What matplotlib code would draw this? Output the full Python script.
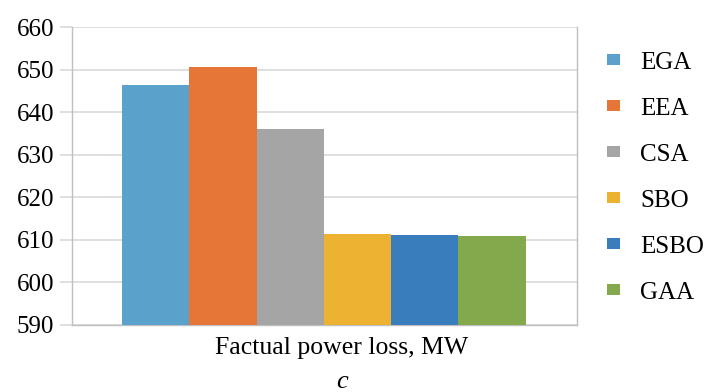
import matplotlib.pyplot as plt
from matplotlib.patches import Patch

# Data
methods = ['EGA', 'EEA', 'CSA', 'SBO', 'ESBO', 'GAA']
power_loss = [646.4, 650.7, 636.0, 611.3, 611.1, 610.9]
colors = ['#5AA2CC', '#E57637', '#A5A5A5', '#EDB232', '#3A7DBD', '#84A94C']
category = 'Factual power loss, MW'
y_ticks = [590, 600, 610, 620, 630, 640, 650, 660]

plt.rcParams['font.family'] = ['Liberation Serif', 'DejaVu Serif']

fig = plt.figure(figsize=(7.07, 3.92), dpi=100)
ax = fig.add_axes([0.102, 0.171, 0.714, 0.760])

grid_col = '#D9D9D9'
for i, (m, v, c) in enumerate(zip(methods, power_loss, colors)):
    ax.bar(i, v - y_ticks[0], bottom=y_ticks[0], width=1.0, color=c, label=m, zorder=3)

ax.set_ylim(y_ticks[0], y_ticks[-1])
ax.set_xlim(-1.24, 6.26)
ax.set_yticks(y_ticks)
ax.yaxis.grid(True, color=grid_col, linewidth=1.2, zorder=0)
ax.tick_params(axis='y', length=9, color=grid_col, width=1.2, labelsize=18, pad=4)
ax.set_xticks([])
ax.set_xlabel(category, fontsize=18.5, x=0.533, labelpad=9)

for s in ['left', 'right', 'bottom']:
    ax.spines[s].set_color('#BFBFBF')
    ax.spines[s].set_linewidth(1.0)
ax.spines['top'].set_visible(False)

handles = [Patch(facecolor=c, edgecolor='none') for c in colors]
fig.legend(handles, methods, loc='upper left', bbox_to_anchor=(0.845, 0.893),
           frameon=False, fontsize=18, handlelength=0.52, handleheight=0.3,
           handletextpad=0.8, labelspacing=0.96, borderaxespad=0)

fig.text(0.484, 0.025, 'c', fontsize=19, style='italic', ha='center', va='center')

fig.savefig('out.png', dpi=100, facecolor='white')
